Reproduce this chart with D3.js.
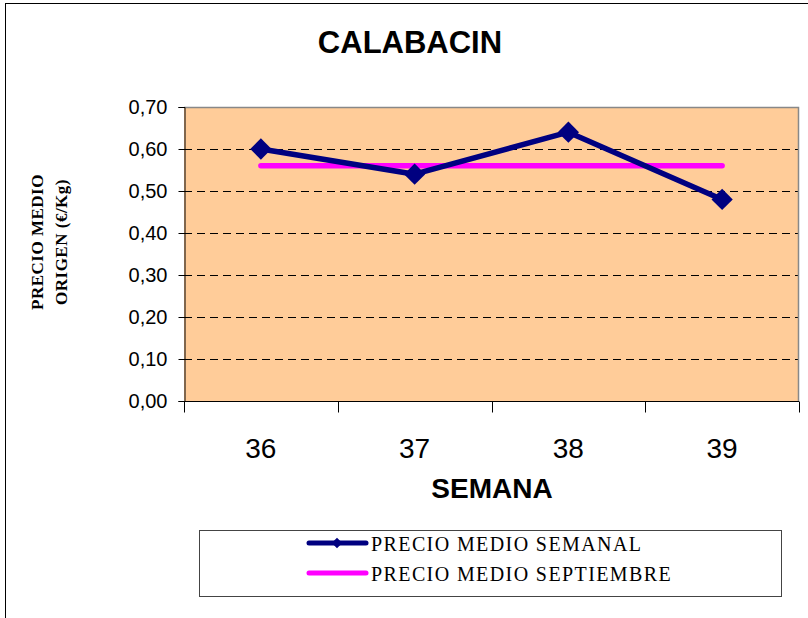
<!DOCTYPE html>
<html>
<head>
<meta charset="utf-8">
<title>CALABACIN</title>
<script src="https://cdn.jsdelivr.net/npm/d3@7"></script>
<style>
    body {
        margin: 0;
        padding: 0;
        background: #fff;
        overflow: hidden;
    }
    svg {
        display: block;
    }
</style>
</head>
<body>
<div id="chart-container"></div>
<script>
    // values
    var semanas = ["36", "37", "38", "39"];
    var precioSemanal = [0.60, 0.54, 0.64, 0.48];
    var precioSeptiembre = [0.56, 0.56, 0.56, 0.56];
    var yTicks = [0, 0.1, 0.2, 0.3, 0.4, 0.5, 0.6, 0.7];
    var seriesNames = ["PRECIO MEDIO SEMANAL", "PRECIO MEDIO SEPTIEMBRE"];

    var WIDTH = 808, HEIGHT = 618;
    var plot = { left: 184, right: 799, top: 107, bottom: 401 };

    var svg = d3.select("#chart-container")
        .append("svg")
        .attr("width", WIDTH)
        .attr("height", HEIGHT);

    // outer chart frame
    svg.append("rect")
        .attr("x", 5.5).attr("y", 3.5)
        .attr("width", 820).attr("height", 630)
        .attr("fill", "#fff")
        .attr("stroke", "#000");

    var x = d3.scaleBand()
        .domain(semanas)
        .range([plot.left, plot.right])
        .padding(0);

    var y = d3.scaleLinear()
        .domain([0, 0.7])
        .range([plot.bottom, plot.top]);

    // plot background
    svg.append("rect")
        .attr("x", plot.left).attr("y", plot.top)
        .attr("width", plot.right - plot.left)
        .attr("height", plot.bottom - plot.top)
        .attr("fill", "#FFCC99");

    // dashed gridlines
    svg.append("g")
        .selectAll("line")
        .data(yTicks.filter(function(t) { return t > 0 && t < 0.7; }))
        .enter()
        .append("line")
        .attr("x1", plot.left).attr("x2", plot.right)
        .attr("y1", function(d) { return Math.round(y(d)) + 0.5; })
        .attr("y2", function(d) { return Math.round(y(d)) + 0.5; })
        .attr("stroke", "#000")
        .attr("stroke-dasharray", "8,5");

    // top / right border of plot area
    svg.append("path")
        .attr("d", "M" + plot.left + "," + (plot.top + 0.5) + "H" + (plot.right - 0.5) + "V" + plot.bottom)
        .attr("fill", "none")
        .attr("stroke", "#888")
        .attr("stroke-width", 1.5);

    // y axis
    var yAxis = svg.append("g")
        .attr("transform", "translate(" + (plot.left + 0.5) + ",0)")
        .call(d3.axisLeft(y)
            .tickValues(yTicks)
            .tickSize(6)
            .tickPadding(11)
            .tickFormat(function(d) { return d3.format(".2f")(d).replace(".", ","); }));
    yAxis.select(".domain").attr("stroke", "#000");
    yAxis.selectAll(".tick line").attr("stroke", "#000");
    yAxis.selectAll(".tick text")
        .attr("fill", "#000")
        .style("font-family", "Arial, 'Liberation Sans', sans-serif")
        .style("font-size", "20px");

    // x axis: ticks on category boundaries
    var xAxis = svg.append("g")
        .attr("transform", "translate(0," + (plot.bottom + 0.5) + ")");
    xAxis.append("line")
        .attr("x1", plot.left).attr("x2", plot.right)
        .attr("stroke", "#000");
    xAxis.selectAll(".xtick")
        .data(semanas.concat(["end"]))
        .enter()
        .append("line")
        .attr("class", "xtick")
        .attr("x1", function(d, i) { return Math.round(i < semanas.length ? x(d) : x(semanas[semanas.length - 1]) + x.bandwidth()) + 0.5; })
        .attr("x2", function(d, i) { return Math.round(i < semanas.length ? x(d) : x(semanas[semanas.length - 1]) + x.bandwidth()) + 0.5; })
        .attr("y1", 0).attr("y2", 11)
        .attr("stroke", "#000");
    xAxis.selectAll(".xlabel")
        .data(semanas)
        .enter()
        .append("text")
        .attr("class", "xlabel")
        .attr("x", function(d) { return x(d) + x.bandwidth() / 2; })
        .attr("y", 56)
        .attr("text-anchor", "middle")
        .style("font-family", "Arial, 'Liberation Sans', sans-serif")
        .style("font-size", "28px")
        .text(function(d) { return d; });

    var cx = function(d, i) { return x(semanas[i]) + x.bandwidth() / 2; };

    // monthly average line
    svg.append("path")
        .datum(precioSeptiembre)
        .attr("fill", "none")
        .attr("stroke", "#FF00FF")
        .attr("stroke-width", 5.5)
        .attr("stroke-linecap", "round")
        .attr("d", d3.line().x(cx).y(function(d) { return y(d); }));

    // weekly price line
    svg.append("path")
        .datum(precioSemanal)
        .attr("fill", "none")
        .attr("stroke", "#000080")
        .attr("stroke-width", 5.5)
        .attr("stroke-linejoin", "round")
        .attr("d", d3.line().x(cx).y(function(d) { return y(d); }));

    var diamond = d3.symbol().type(d3.symbolDiamond2);
    svg.append("g")
        .selectAll("path")
        .data(precioSemanal)
        .enter()
        .append("path")
        .attr("d", diamond.size(2 * 12 * 12))
        .attr("transform", function(d, i) { return "translate(" + cx(d, i) + "," + y(d) + ")"; })
        .attr("fill", "#000080");

    // title
    svg.append("text")
        .attr("x", 410)
        .attr("y", 53)
        .attr("text-anchor", "middle")
        .style("font-family", "Arial, 'Liberation Sans', sans-serif")
        .style("font-weight", "bold")
        .style("font-size", "31px")
        .text("CALABACIN");

    // x axis title
    svg.append("text")
        .attr("x", 492)
        .attr("y", 498)
        .attr("text-anchor", "middle")
        .style("font-family", "Arial, 'Liberation Sans', sans-serif")
        .style("font-weight", "bold")
        .style("font-size", "28px")
        .text("SEMANA");

    // y axis title (two lines)
    var yTitle = svg.append("text")
        .attr("transform", "translate(43,242) rotate(-90)")
        .attr("text-anchor", "middle")
        .style("font-family", "'Liberation Serif', 'Times New Roman', serif")
        .style("font-weight", "bold")
        .style("font-size", "17px")
        .style("letter-spacing", "0.5px");
    yTitle.append("tspan").attr("x", 0).attr("y", 0).text("PRECIO MEDIO");
    yTitle.append("tspan").attr("x", 0).attr("y", 24).text("ORIGEN (€/Kg)");

    // legend
    var legend = svg.append("g");
    legend.append("rect")
        .attr("x", 199.5).attr("y", 530.5)
        .attr("width", 582).attr("height", 66)
        .attr("fill", "#fff")
        .attr("stroke", "#444");

    var legendColors = ["#000080", "#FF00FF"];
    var legendRows = legend.selectAll(".row")
        .data(seriesNames)
        .enter()
        .append("g")
        .attr("class", "row")
        .attr("transform", function(d, i) { return "translate(0," + (543 + i * 30) + ")"; });
    legendRows.append("line")
        .attr("x1", 309).attr("x2", 366)
        .attr("stroke", function(d, i) { return legendColors[i]; })
        .attr("stroke-width", 5)
        .attr("stroke-linecap", "round");
    legendRows.filter(function(d, i) { return i === 0; })
        .append("path")
        .attr("d", diamond.size(2 * 6 * 6))
        .attr("transform", "translate(337,0)")
        .attr("fill", "#000080");
    legendRows.append("text")
        .attr("x", 371)
        .attr("y", 8)
        .style("font-family", "'Liberation Serif', 'Times New Roman', serif")
        .style("font-size", "20px")
        .style("letter-spacing", "1.4px")
        .text(function(d) { return d; });
</script>
</body>
</html>
